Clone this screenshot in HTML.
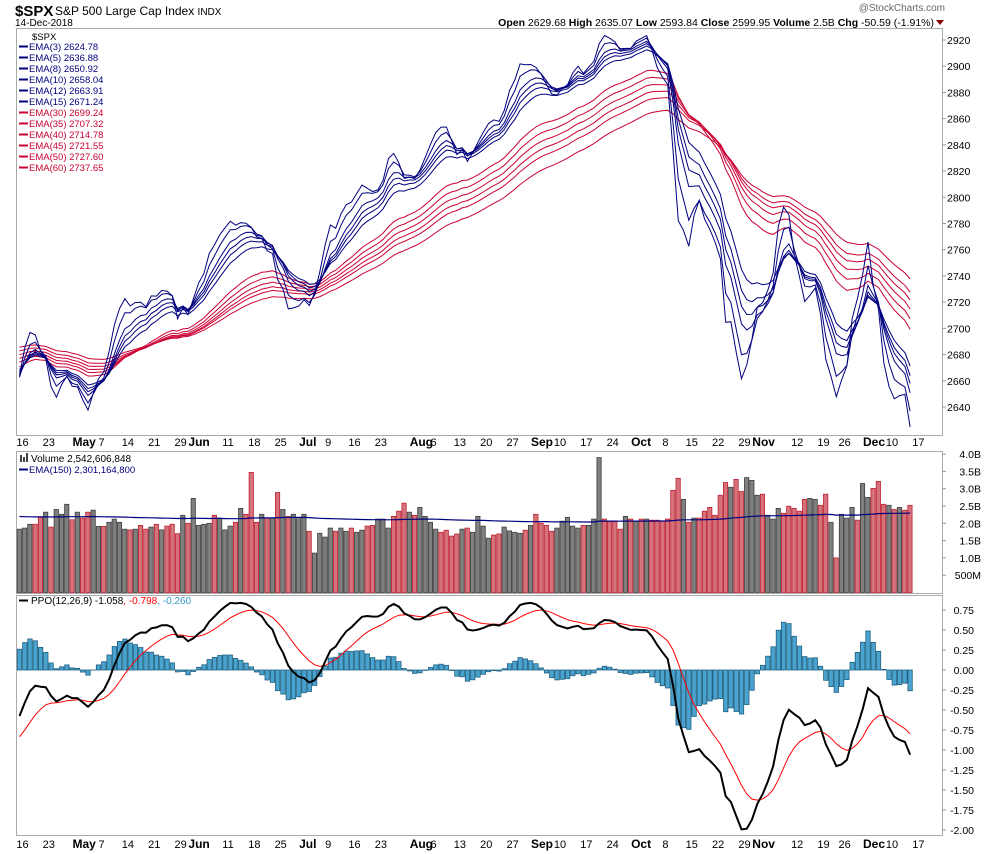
<!DOCTYPE html>
<html><head><meta charset="utf-8">
<style>
html,body{margin:0;padding:0;background:#fff;}
svg{display:block;font-family:"Liberation Sans",sans-serif;}
</style></head>
<body>
<svg id="chart" width="990" height="854" viewBox="0 0 990 854" xmlns="http://www.w3.org/2000/svg">
<rect x="0" y="0" width="990" height="854" fill="#fff"/>
<g>
<text x="15" y="16" font-size="15" font-weight="bold" fill="#000">$SPX</text>
<text x="55" y="15" font-size="12" fill="#000">S&amp;P 500 Large Cap Index <tspan font-size="10">INDX</tspan></text>
<text x="15" y="26" font-size="10" fill="#000">14-Dec-2018</text>
<text x="945" y="11" font-size="10" fill="#666" text-anchor="end">@StockCharts.com</text>
<text x="934" y="26" font-size="10.5" fill="#000" text-anchor="end"><tspan font-weight="bold">Open</tspan> 2629.68 <tspan font-weight="bold">High</tspan> 2635.07 <tspan font-weight="bold">Low</tspan> 2593.84 <tspan font-weight="bold">Close</tspan> 2599.95 <tspan font-weight="bold">Volume</tspan> 2.5B <tspan font-weight="bold">Chg</tspan> -50.59 (-1.91%)</text>
<polygon points="936,20 944,20 940,25" fill="#8b0000"/>
</g>
<rect x="16.5" y="28.5" width="926" height="407" fill="none" stroke="#aaa"/>
<rect x="16.5" y="451.5" width="926" height="142" fill="none" stroke="#aaa"/>
<rect x="16.5" y="595.5" width="926" height="240" fill="none" stroke="#aaa"/>
<g id="gPrice"></g><g id="gVol"></g><g id="gPPO"></g><g id="gAxes"></g>
<g font-size="9.5">
<text x="32" y="40" fill="#000">$SPX</text>
<g fill="#00007f">
<text x="29" y="50">EMA(3) 2624.78</text><text x="29" y="61">EMA(5) 2636.88</text><text x="29" y="72">EMA(8) 2650.92</text>
<text x="29" y="83">EMA(10) 2658.04</text><text x="29" y="94">EMA(12) 2663.91</text><text x="29" y="105">EMA(15) 2671.24</text></g>
<g fill="#cc0033">
<text x="29" y="116">EMA(30) 2699.24</text><text x="29" y="127">EMA(35) 2707.32</text><text x="29" y="138">EMA(40) 2714.78</text>
<text x="29" y="149">EMA(45) 2721.55</text><text x="29" y="160">EMA(50) 2727.60</text><text x="29" y="171">EMA(60) 2737.65</text></g>
<g stroke-width="2"><line x1="19" x2="28" y1="46.5" y2="46.5" stroke="#00007f"/><line x1="19" x2="28" y1="57.5" y2="57.5" stroke="#00007f"/><line x1="19" x2="28" y1="68.5" y2="68.5" stroke="#00007f"/><line x1="19" x2="28" y1="79.5" y2="79.5" stroke="#00007f"/><line x1="19" x2="28" y1="90.5" y2="90.5" stroke="#00007f"/><line x1="19" x2="28" y1="101.5" y2="101.5" stroke="#00007f"/>
<line x1="19" x2="28" y1="112.5" y2="112.5" stroke="#cc0033"/><line x1="19" x2="28" y1="123.5" y2="123.5" stroke="#cc0033"/><line x1="19" x2="28" y1="134.5" y2="134.5" stroke="#cc0033"/><line x1="19" x2="28" y1="145.5" y2="145.5" stroke="#cc0033"/><line x1="19" x2="28" y1="156.5" y2="156.5" stroke="#cc0033"/><line x1="19" x2="28" y1="167.5" y2="167.5" stroke="#cc0033"/></g>
</g>
<g font-size="10">
<rect x="20" y="455" width="2" height="7" fill="#444"/><rect x="23" y="457" width="2" height="5" fill="#444"/><rect x="26" y="453" width="2" height="9" fill="#444"/>
<text x="31" y="462" fill="#000">Volume 2,542,606,848</text>
<line x1="19" x2="28" y1="469.5" y2="469.5" stroke="#00007f" stroke-width="2"/>
<text x="29" y="473" fill="#00007f" font-size="9.5">EMA(150) 2,301,164,800</text>
</g>
<g font-size="10">
<line x1="19" x2="28" y1="600.5" y2="600.5" stroke="#000" stroke-width="2"/>
<text x="31" y="604" fill="#000">PPO(12,26,9) -1.058<tspan fill="#ff0000">, -0.798</tspan><tspan fill="#3399cc">, -0.260</tspan></text>
</g>
</svg>
<script>
const closes = [2677.84,2706.39,2708.64,2693.13,2670.14,2670.29,2634.56,2639.40,2666.94,2669.91,2648.05,
2654.80,2635.67,2629.73,2663.42,2672.63,2671.92,2697.79,2723.07,2727.72,2730.13,2711.45,2722.46,2720.13,2712.97,2733.01,2724.44,2733.29,2727.76,2721.33,2689.86,2724.01,2705.27,
2734.62,2746.87,2748.80,2772.35,2770.37,2779.03,2782.00,2786.85,2775.63,2782.49,2779.66,2773.75,2762.59,2767.32,2749.76,2754.88,2717.07,2723.06,2699.63,2716.31,2718.37,
2726.71,2713.22,2736.61,2759.82,2784.17,2793.84,2774.02,2798.29,2801.31,2798.43,2809.55,2815.62,2804.49,2801.83,2806.98,2820.40,2846.07,2837.44,2818.82,2802.60,2816.29,
2813.36,2827.22,2840.35,2850.40,2858.45,2857.70,2853.58,2833.28,2821.93,2839.96,2818.37,2840.69,2850.13,2857.05,2862.96,2861.82,2856.98,2874.69,2896.74,2897.52,2914.04,2900.45,2901.52,
2896.72,2888.60,2878.05,2871.68,2877.13,2887.89,2888.92,2904.18,2904.98,2888.80,2904.31,2907.95,2930.75,2929.67,2919.37,2915.56,2905.97,2914.00,2913.98,
2924.59,2923.43,2925.51,2901.61,2885.57,2884.43,2880.34,2785.68,2728.37,2767.13,2750.79,2809.92,2809.21,2768.78,2767.78,2755.88,2740.69,2656.10,2705.57,2658.69,2641.25,2682.63,2711.74,
2740.37,2723.06,2738.31,2755.45,2813.89,2806.83,2781.01,2726.22,2722.18,2701.58,2730.20,2736.27,2690.73,2641.89,2649.93,2632.56,2673.45,2682.17,2743.79,2737.76,2760.17,
2790.37,2700.06,2695.95,2633.08,2637.72,2636.78,2651.07,2650.54,2599.95];
const volumes = [1.83,1.86,1.97,1.97,2.17,2.32,1.89,2.40,2.26,2.55,2.10,
2.32,2.15,2.32,2.38,1.91,1.91,2.03,2.12,2.03,1.83,1.81,1.83,1.94,1.83,1.89,1.97,1.81,1.92,1.97,1.70,2.23,2.00,
2.72,1.94,1.97,2.00,2.23,2.15,1.81,1.92,2.03,2.43,2.26,3.47,2.03,2.26,2.15,2.15,2.89,2.40,2.20,2.26,2.17,
2.26,1.77,1.14,1.71,1.60,1.86,1.77,1.86,1.77,1.86,1.74,1.80,1.92,1.94,2.12,2.12,1.86,2.20,2.35,2.58,2.32,
2.23,2.46,2.20,2.03,1.83,1.74,1.80,1.63,1.69,1.83,1.86,1.74,2.20,
1.92,1.57,1.66,1.69,1.89,1.78,1.74,1.71,1.80,1.94,2.26,2.00,1.94,1.77,1.86,2.06,2.17,1.92,1.86,1.94,1.94,2.12,3.90,2.12,2.06,2.06,1.83,2.20,2.12,2.06,
2.12,2.12,2.09,2.09,2.06,2.12,2.95,3.30,2.69,2.03,2.15,2.15,2.35,2.46,2.23,2.81,3.18,3.04,3.27,2.92,3.32,3.24,2.81,2.84,2.23,2.12,2.43,2.29,2.49,2.43,
2.35,2.69,2.72,2.69,2.52,2.84,2.03,1.00,2.26,2.15,2.46,2.09,3.15,2.75,3.01,3.21,2.55,2.52,2.40,2.46,2.38,2.52];
const blueEmaPeriods = [3,5,8,10,12,15];
const blueEmaSeeds = [2650,2655,2660,2663,2665,2667];
const redEmaPeriods = [30,35,40,45,50,60];
const redEmaSeeds = [2670,2674,2677,2680,2683,2686];
const ppoSeeds = [2662,2680,-0.9]; // ema12, ema26, signal at start
const volEmaSeed = 2.2;
const priceTicks = [2640,2660,2680,2700,2720,2740,2760,2780,2800,2820,2840,2860,2880,2900,2920];
const volTicks = [0.5,1.0,1.5,2.0,2.5,3.0,3.5,4.0];
const volTickLabels = ["500M","1.0B","1.5B","2.0B","2.5B","3.0B","3.5B","4.0B"];
const ppoTicks = [0.75,0.5,0.25,0,-0.25,-0.5,-0.75,-1,-1.25,-1.5,-1.75,-2];
const dateLabels = ["16","23","May","7","14","21","29","Jun","11","18","25","Jul","9","16","23","Aug","6","13","20","27","Sep","10","17","24","Oct","8","15","22","29","Nov","12","19","26","Dec","10","17"];
const dateLabelIdx = [0,5,11,15,20,25,30,33,39,44,49,54,58,63,68,75,78,83,88,93,98,102,107,112,117,122,127,132,137,140,147,152,156,161,165,170];

const NS="http://www.w3.org/2000/svg";
function X(i){return 19.5+i*5.27;}
function YP(p){return 40+(2920-p)*367/280;}
function YV(v){return 592.5-v*34.6;}
function YO(v){return 670-v*80;}
function mk(tag,attrs,parent){const e=document.createElementNS(NS,tag);for(const k in attrs)e.setAttribute(k,attrs[k]);parent.appendChild(e);return e;}
function ema(arr,n,seed){const k=2/(n+1);let e=seed;return arr.map(v=>(e=v*k+e*(1-k)));}
function pathOf(vals,yf){return vals.map((v,i)=>(i?'L':'M')+X(i).toFixed(1)+','+yf(v).toFixed(1)).join('');}

const gP=document.getElementById('gPrice');
redEmaPeriods.forEach((n,j)=>{
  const p=mk('path',{d:pathOf(ema(closes,n,redEmaSeeds[j]),YP),fill:'none',stroke:'#cc0033','stroke-width':1},gP);
  
  
});
blueEmaPeriods.forEach((n,j)=>{
  const p=mk('path',{d:pathOf(ema(closes,n,blueEmaSeeds[j]),YP),fill:'none',stroke:'#00007f','stroke-width':1},gP);
  
  
});

const gV=document.getElementById('gVol');
volumes.forEach((v,i)=>{
  const down=i>0&&closes[i]<closes[i-1];
  const r=mk('rect',{x:(X(i)-2.3).toFixed(1),y:YV(v).toFixed(1),width:4.3,height:(592.5-YV(v)).toFixed(1),fill:down?'#d4737b':'#7f7f7f',stroke:down?'#c02030':'#404040','stroke-width':0.8},gV);
  
  
});
const vl=mk('path',{d:pathOf(ema(volumes,150,volEmaSeed),YV),fill:'none',stroke:'#00007f','stroke-width':1.2},gV);



const gO=document.getElementById('gPPO');
const e12=ema(closes,12,ppoSeeds[0]), e26=ema(closes,26,ppoSeeds[1]);
const ppo=e12.map((v,i)=>(v-e26[i])/e26[i]*100);
const sig=ema(ppo,9,ppoSeeds[2]);
const hist=ppo.map((v,i)=>v-sig[i]);
hist.forEach((h,i)=>{
  const y0=YO(0),y1=YO(h);
  const r=mk('rect',{x:(X(i)-2.2).toFixed(1),y:Math.min(y0,y1).toFixed(1),width:4.4,height:Math.abs(y1-y0).toFixed(1),fill:'#4aa3cf',stroke:'#1f6080','stroke-width':0.8},gO);
  
  
});
const sl=mk('path',{d:pathOf(sig,YO),fill:'none',stroke:'#ff0000','stroke-width':1},gO);


const pl=mk('path',{d:pathOf(ppo,YO),fill:'none',stroke:'#000','stroke-width':2},gO);



const gA=document.getElementById('gAxes');
priceTicks.forEach(t=>{
  const tx=mk('text',{x:947,y:(YP(t)+4).toFixed(1),'font-size':10.5,fill:'#000'},gA);tx.textContent=t;
  
  
  mk('line',{x1:942,x2:946,y1:YP(t),y2:YP(t),stroke:'#999'},gA);
});
volTicks.forEach((t,i)=>{
  const tx=mk('text',{x:981,y:(YV(t)+4).toFixed(1),'font-size':10.5,fill:'#000','text-anchor':'end'},gA);tx.textContent=volTickLabels[i];
  
  
  mk('line',{x1:942,x2:946,y1:YV(t),y2:YV(t),stroke:'#999'},gA);
});
ppoTicks.forEach(t=>{
  const tx=mk('text',{x:974,y:(YO(t)+4).toFixed(1),'font-size':10.5,fill:'#000','text-anchor':'end'},gA);tx.textContent=t.toFixed(2);
  
  
  mk('line',{x1:942,x2:946,y1:YO(t),y2:YO(t),stroke:'#999'},gA);
});
[446,848].forEach(yy=>{
  dateLabels.forEach((l,j)=>{
    const isM=isNaN(+l);
    const tx=mk('text',{x:(isM?X(dateLabelIdx[j])-5:X(dateLabelIdx[j])+3).toFixed(1),y:yy,'font-size':isM?12:11,'font-weight':isM?'bold':'normal',fill:'#000','text-anchor':isM?'start':'middle'},gA);
    tx.textContent=l;
    
    
  });
});
</script>
</body></html>
